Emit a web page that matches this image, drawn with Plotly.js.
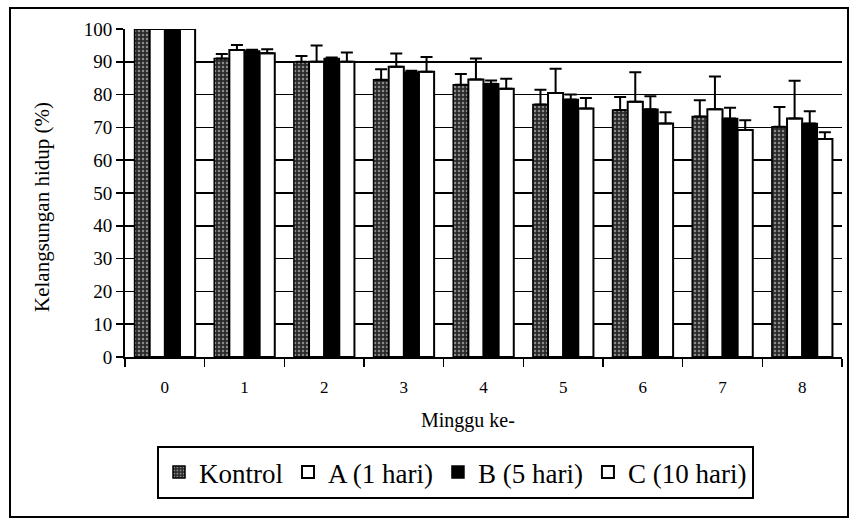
<!DOCTYPE html>
<html>
<head>
<meta charset="utf-8">
<script src="https://cdn.plot.ly/plotly-3.0.1.min.js"></script>
<style>html,body{margin:0;padding:0;background:#fff;}#chart{width:851px;height:522px;}</style>
</head>
<body>
<div id="chart"></div>
<script>
// Data
const weeks = ['0','1','2','3','4','5','6','7','8'];
const seriesNames = ['Kontrol', 'A (1 hari)', 'B (5 hari)', 'C (10 hari)'];
const kontrol    = [100, 91.0, 90.0, 84.5, 83.0, 77.0, 75.3, 73.3, 70.2];
const kontrolErr = [0, 1.4, 1.8, 3.2, 3.3, 4.5, 4.0, 5.0, 6.0];
const seriesA    = [100, 93.6, 90.0, 88.5, 84.6, 80.5, 77.8, 75.5, 72.7];
const seriesAErr = [0, 1.5, 5.0, 4.0, 6.4, 7.4, 9.0, 10.0, 11.5];
const seriesB    = [100, 93.3, 91.0, 86.8, 83.3, 78.5, 75.5, 72.7, 71.2];
const seriesBErr = [0, 0.4, 0.3, 0.5, 1.0, 1.5, 4.0, 3.3, 3.7];
const seriesC    = [100, 92.6, 90.0, 87.0, 81.8, 75.8, 71.2, 69.2, 66.5];
const seriesCErr = [0, 1.2, 2.8, 4.5, 3.0, 3.2, 3.4, 3.0, 2.0];
const yTicks = [0,10,20,30,40,50,60,70,80,90,100];
const xTitle = 'Minggu ke-';
const yTitle = 'Kelangsungan hidup (%)';

const zeros = weeks.map(() => 0);
function errBar(arr){
  return {type:'data', symmetric:false, array:arr, arrayminus:zeros, color:'#000', thickness:2, width:6, visible:true};
}
const font = "Liberation Serif";

const traces = [
  {type:'bar', name:seriesNames[0], x:weeks, y:kontrol, error_y:errBar(kontrolErr),
   marker:{color:'#2a2a2a', line:{color:'#000', width:1.5}, pattern:{shape:'.', fgcolor:'#8a8a8a', bgcolor:'#2a2a2a', size:4, solidity:0.3}}},
  {type:'bar', name:seriesNames[1], x:weeks, y:seriesA, error_y:errBar(seriesAErr),
   marker:{color:'#fff', line:{color:'#000', width:2}}},
  {type:'bar', name:seriesNames[2], x:weeks, y:seriesB, error_y:errBar(seriesBErr),
   marker:{color:'#000', line:{color:'#000', width:1.5}}},
  {type:'bar', name:seriesNames[3], x:weeks, y:seriesC, error_y:errBar(seriesCErr),
   marker:{color:'#fff', line:{color:'#000', width:2}}}
];

const L = 125, R = 842, T = 29, B = 357;
const W = R - L, H = B - T;
const px = v => (v - L) / W;
const py = v => (B - v) / H;

const layout = {
  width: 851, height: 522,
  margin: {l: L, r: 851 - R, t: T, b: 522 - B, pad: 0},
  paper_bgcolor: '#fff', plot_bgcolor: '#fff',
  font: {family: font, color: '#000', size: 15},
  barmode: 'group', bargap: 0.24, bargroupgap: 0,
  showlegend: true,
  legend: {orientation: 'h', x: px(157), y: py(446), xanchor: 'left', yanchor: 'top',
           bordercolor: '#000', borderwidth: 2, bgcolor: '#fff',
           font: {family: font, size: 27, color: '#000'}, itemwidth: 30, tracegroupgap: 0},
  xaxis: {type: 'category', tickson: 'boundaries', ticks: 'outside', ticklen: 8, tickwidth: 1.5, tickcolor: '#000',
          showline: true, linecolor: '#000', linewidth: 2, showgrid: false, zeroline: false,
          ticklabelstandoff: 14,
          tickfont: {family: font, size: 17, color: '#000'}},
  yaxis: {range: [0, 100], tickvals: yTicks, ticks: 'outside', ticklen: 7, tickwidth: 1.5, tickcolor: '#000',
          showline: true, linecolor: '#000', linewidth: 2, showgrid: true, gridcolor: '#000', gridwidth: 1.5,
          zeroline: false, tickfont: {family: font, size: 19, color: '#000'}},
  annotations: [
    {text: xTitle, xref: 'paper', yref: 'paper', x: px(468), y: py(420), xanchor: 'center', yanchor: 'middle',
     showarrow: false, font: {family: font, size: 20, color: '#000'}},
    {text: yTitle, xref: 'paper', yref: 'paper', x: px(42), y: py(207), xanchor: 'center', yanchor: 'middle',
     textangle: -90, showarrow: false, font: {family: font, size: 21, color: '#000'}}
  ],
  shapes: [
    {type: 'rect', xref: 'paper', yref: 'paper', x0: px(10), x1: px(848), y0: py(517), y1: py(8),
     line: {color: '#000', width: 2}, fillcolor: 'rgba(0,0,0,0)', layer: 'below'}
  ]
};

Plotly.newPlot('chart', traces, layout, {displayModeBar: false, staticPlot: true});
</script>
</body>
</html>
